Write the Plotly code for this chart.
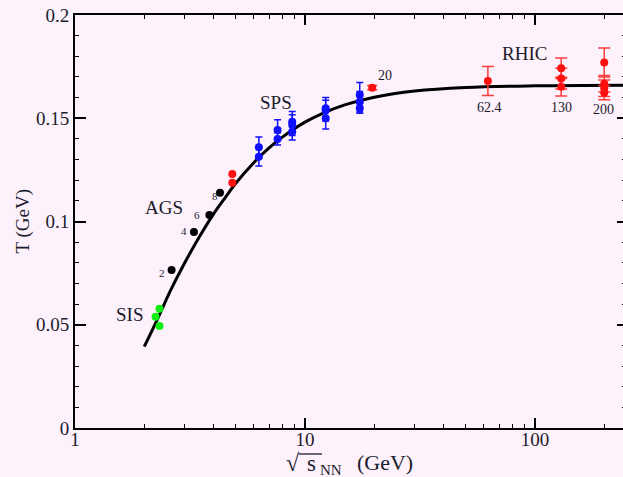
import math
import plotly.graph_objects as go

# ---- data ----
curve_s = [2.0, 2.3, 2.6, 3.0, 3.5, 4.0, 4.5, 5.0, 6.0, 7.0, 8.0, 10.0, 12.0, 15.0, 20.0, 30.0, 50.0, 100.0, 250.0]
curve_T = [0.0394, 0.0535, 0.0665, 0.0800, 0.0932, 0.1036, 0.1116, 0.1185, 0.1286, 0.1358, 0.1410, 0.1481, 0.1525, 0.1566, 0.1602, 0.1632, 0.1649, 0.1657, 0.1660]

sis_s = [2.33, 2.24, 2.33]
sis_T = [0.0578, 0.0539, 0.0494]

ags_s = [2.63, 3.29, 3.84, 4.27]
ags_T = [0.0765, 0.0949, 0.1031, 0.1139]
ags_labels = ["2", "4", "6", "8"]

ags_red_s = [4.83, 4.83]
ags_red_T = [0.1230, 0.1188]

sps_s = [6.3, 6.3, 7.6, 7.6, 8.8, 8.8, 8.8, 12.3, 12.3, 12.3, 17.3, 17.3, 17.3]
sps_T = [0.1359, 0.1314, 0.1443, 0.1400, 0.1483, 0.1467, 0.1435, 0.1548, 0.1537, 0.1500, 0.1613, 0.1580, 0.1548]
sps_err = [0.005, 0.0045, 0.005, 0.003, 0.005, 0.005, 0.004, 0.0053, 0.005, 0.0052, 0.006, 0.005, 0.0024]

sps20_s = [19.6]
sps20_T = [0.1648]
sps20_err = [0.001]

rhic_s = [62.4, 130, 130, 130, 200, 200, 200, 200]
rhic_T = [0.168, 0.1742, 0.1692, 0.1653, 0.177, 0.1667, 0.1645, 0.1624]
rhic_err = [0.007, 0.005, 0.005, 0.0045, 0.007, 0.004, 0.004, 0.0035]

y_ticks = [0, 0.05, 0.1, 0.15, 0.2]
y_ticktext = ["0", "0.05", "0.1", "0.15", "0.2"]
x_ticks = [1, 10, 100]
x_ticktext = ["1", "10", "100"]

# ---- styling ----
SERIF = "Liberation Serif, Times New Roman, serif"
BG = "#fdf2fc"
TXT = "#1c1c2c"
L, T_, W, H = 75, 15, 548, 413  # plot area in px


def px(xp):
    return (xp - L) / W


def py(yp):
    return (T_ + H - yp) / H


fig = go.Figure()

fig.add_trace(go.Scatter(x=curve_s, y=curve_T, mode="lines", line=dict(color="black", width=3, shape="spline"),
                         showlegend=False, hoverinfo="skip"))

fig.add_trace(go.Scatter(x=sis_s, y=sis_T, mode="markers", marker=dict(color="#11ee11", size=8),
                         showlegend=False))
fig.add_trace(go.Scatter(x=ags_s, y=ags_T, mode="markers", marker=dict(color="black", size=8),
                         showlegend=False))
fig.add_trace(go.Scatter(x=ags_red_s, y=ags_red_T, mode="markers", marker=dict(color="#ff1010", size=8),
                         showlegend=False))
fig.add_trace(go.Scatter(x=sps_s, y=sps_T, mode="markers", marker=dict(color="#1010ff", size=8),
                         error_y=dict(type="data", array=sps_err, color="#1010ff", thickness=1.5, width=3.5),
                         showlegend=False))
fig.add_trace(go.Scatter(x=sps20_s, y=sps20_T, mode="markers", marker=dict(color="#ff1010", size=8),
                         error_y=dict(type="data", array=sps20_err, color="#ff3030", thickness=1.5, width=5),
                         showlegend=False))
fig.add_trace(go.Scatter(x=rhic_s, y=rhic_T, mode="markers", marker=dict(color="#ff1010", size=8),
                         error_y=dict(type="data", array=rhic_err, color="#ff3c3c", thickness=1.5, width=6),
                         showlegend=False))
# empty trace to carry the right-hand tick axis
fig.add_trace(go.Scatter(x=[], y=[], yaxis="y2", showlegend=False, hoverinfo="skip"))

annotations = [
    dict(x=1.717, y=0.0548, text="SIS", size=19),
    dict(x=2.449, y=0.107, text="AGS", size=19),
    dict(x=7.48, y=0.1574, text="SPS", size=19),
    dict(x=89.6, y=0.1816, text="RHIC", size=19),
    dict(x=2.38, y=0.0751, text=ags_labels[0], size=11),
    dict(x=2.99, y=0.0954, text=ags_labels[1], size=11),
    dict(x=3.40, y=0.1031, text=ags_labels[2], size=11),
    dict(x=4.05, y=0.1123, text=ags_labels[3], size=11),
    dict(x=22.3, y=0.1705, text="20", size=14),
    dict(x=63.1, y=0.1554, text="62.4", size=14),
    dict(x=130.6, y=0.1554, text="130", size=14),
    dict(x=199.5, y=0.154, text="200", size=14),
]
for a in annotations:
    fig.add_annotation(x=math.log10(a["x"]), y=a["y"], xref="x", yref="y", text=a["text"],
                       showarrow=False, font=dict(family=SERIF, size=a["size"], color=TXT))

# x-axis title pieces: √ s̄ NN (GeV)
title_parts = [
    dict(text="√", x=293, y=463, size=24),
    dict(text="s", x=311, y=463, size=23),
    dict(text="NN", x=331, y=470, size=15),
    dict(text="(GeV)", x=385, y=462, size=22),
]
for p in title_parts:
    fig.add_annotation(xref="paper", yref="paper", x=px(p["x"]), y=py(p["y"]), xanchor="center",
                       yanchor="middle", text=p["text"], showarrow=False,
                       font=dict(family=SERIF, size=p["size"], color=TXT))
fig.add_shape(type="line", xref="paper", yref="paper", x0=px(299), x1=px(322), y0=py(454), y1=py(454),
              line=dict(color=TXT, width=1.3))

fig.add_annotation(xref="paper", yref="paper", x=0, xshift=-53, y=0.5, xanchor="center", yanchor="middle",
                   text="T (GeV)", textangle=-90, showarrow=False,
                   font=dict(family=SERIF, size=19, color=TXT))

fig.update_layout(
    width=623, height=477,
    margin=dict(l=L, r=0, t=T_, b=477 - T_ - H),
    paper_bgcolor=BG, plot_bgcolor=BG,
    font=dict(family=SERIF, size=19, color=TXT),
    showlegend=False,
    yaxis2=dict(overlaying="y", side="right", anchor="x", range=[0, 0.2], tickvals=y_ticks,
                showticklabels=False, ticks="inside", ticklen=6, tickwidth=1.5, tickcolor="black",
                showline=False, showgrid=False, zeroline=False,
                minor=dict(ticks="inside", ticklen=1.5, tickwidth=1.2, tickcolor="black", dtick=0.01,
                           showgrid=False)),
)
fig.update_xaxes(type="log", range=[0, 2.3826], tickvals=x_ticks, ticktext=x_ticktext,
                 ticks="inside", ticklen=10, tickwidth=1.5, tickcolor="black",
                 showline=True, linecolor="black", linewidth=2, mirror="ticks",
                 showgrid=False, zeroline=False, ticklabelstandoff=-7,
                 minor=dict(ticks="inside", ticklen=4, tickwidth=1.2, tickcolor="black", dtick="D1", showgrid=False),
                 tickfont=dict(family=SERIF, size=19, color=TXT))
fig.update_layout(yaxis=dict(range=[0, 0.2], tickvals=y_ticks, ticktext=y_ticktext,
                             ticks="inside", ticklen=11, tickwidth=1.5, tickcolor="black",
                             showline=True, linecolor="black", linewidth=2, mirror=False,
                             showgrid=False, zeroline=False,
                             minor=dict(ticks="inside", ticklen=4, tickwidth=1.2, tickcolor="black", dtick=0.01,
                                        showgrid=False),
                             tickfont=dict(family=SERIF, size=19, color=TXT)))

fig.write_html("out.html", config={"displayModeBar": False},
               post_script="document.body.style.margin='0';document.body.style.overflow='hidden';"
                           "document.body.style.background='" + BG + "';")
